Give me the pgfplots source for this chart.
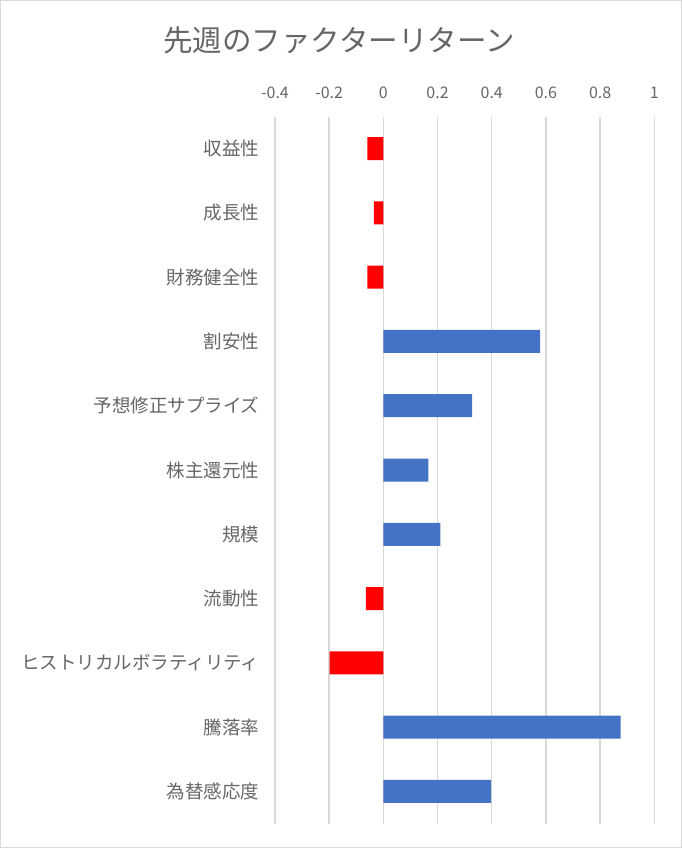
\documentclass[border=0pt]{standalone}
\usepackage{fontspec}
\setmainfont{Noto Sans CJK JP}
\usepackage{pgfplots}
\pgfplotsset{compat=1.18}
\definecolor{txtgray}{HTML}{666666}
\definecolor{gridgray}{HTML}{D9D9D9}
\definecolor{posblue}{HTML}{4472C4}
\definecolor{negred}{HTML}{FF0000}
\begin{document}
\begin{tikzpicture}
% chart frame (682 x 848 px)
\draw[gridgray, line width=1.2bp] (-274.4bp,-23.9bp) rectangle (406.4bp,822.9bp);
\begin{axis}[
    at={(0,0)}, anchor=south west,
    scale only axis,
    width=379.3bp, height=707bp,
    xmin=-0.4, xmax=1,
    xtick={-0.4,-0.2,0,0.2,0.4,0.6,0.8,1},
    xticklabel pos=upper,
    ymin=-0.5, ymax=10.5,
    y dir=reverse,
    ytick={0,...,10},
    yticklabels={収益性,成長性,財務健全性,割安性,予想修正サプライズ,株主還元性,規模,流動性,ヒストリカルボラティリティ,騰落率,為替感応度},
    major tick length=0pt,
    axis line style={draw=none},
    xmajorgrids,
    grid style={draw=gridgray, line width=1.5bp},
    tick label style={text=txtgray},
    xticklabel style={font=\fontsize{16bp}{18bp}\selectfont, yshift=14bp},
    yticklabel style={font=\fontsize{18.5bp}{20bp}\selectfont, xshift=-12bp},
    /pgf/number format/assume math mode=true,
    xbar, bar width=23bp, bar shift=0pt,
    clip=false,
]
% negative returns
\addplot[fill=negred, draw=none] coordinates {
    (-0.059,0) (-0.035,1) (-0.059,2) (-0.065,7) (-0.198,8)
};
% positive returns
\addplot[fill=posblue, draw=none] coordinates {
    (0.579,3) (0.328,4) (0.166,5) (0.210,6) (0.876,9) (0.398,10)
};
\end{axis}
\node[text=txtgray, font=\fontsize{29.5bp}{32bp}\selectfont] at (64bp,783.5bp) {先週のファクターリターン};
\end{tikzpicture}
\end{document}
